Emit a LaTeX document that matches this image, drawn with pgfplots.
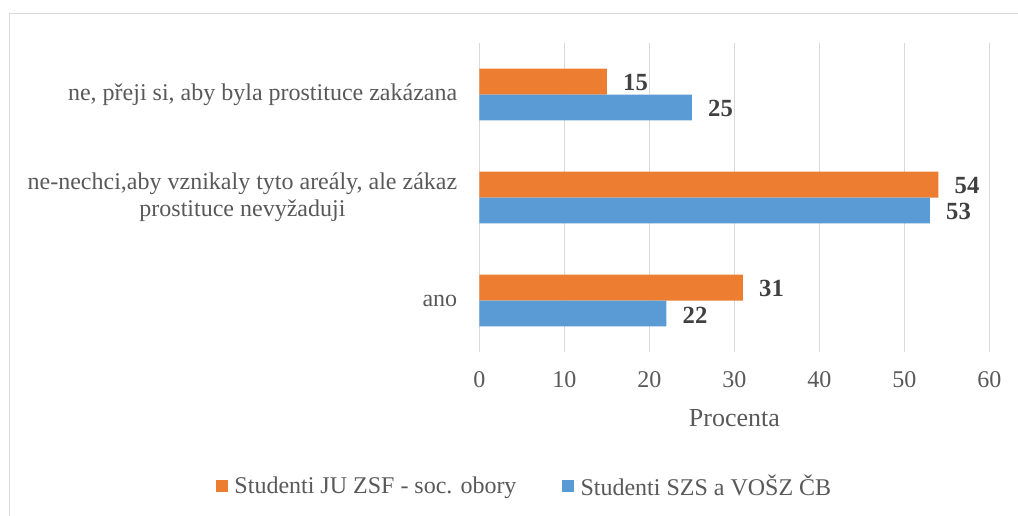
\documentclass[border=0pt]{standalone}
\usepackage{fontspec}
\setmainfont{Liberation Serif}
\usepackage{pgfplots}
\pgfplotsset{compat=1.18}
\definecolor{orangeS}{HTML}{ED7D31}
\definecolor{blueS}{HTML}{5B9BD5}
\definecolor{gridc}{HTML}{D9D9D9}
\definecolor{txt}{HTML}{595959}
\definecolor{lbl}{HTML}{404040}
\begin{document}
\begin{tikzpicture}
\useasboundingbox (0,0) rectangle (763.5pt,386.25pt);
\draw[gridc, line width=0.75pt] (6.975pt,-1pt) -- (6.975pt,375.75pt) -- (765pt,375.75pt);
\begin{axis}[
  at={(359.6pt,122.25pt)}, anchor=south west,
  scale only axis, width=382.5pt, height=231.75pt,
  xbar, xmin=0, xmax=60, ymin=-0.5, ymax=2.5,
  xtick={0,10,...,60}, ytick={0,1,2},
  yticklabels={ano,{ne-nechci,aby vznikaly tyto areály, ale zákaz\\prostituce nevyžaduji},{ne, přeji si, aby byla prostituce zakázana}},
  /pgf/number format/assume math mode=true,
  axis line style={draw=none}, tick style={draw=none}, major tick length=0pt,
  xmajorgrids, grid style={draw=gridc, line width=0.9pt},
  ticklabel style={font=\fontsize{18}{20}\selectfont, text=txt},
  xticklabel style={inner sep=0pt, anchor=center, yshift=-21pt},
  yticklabel style={inner sep=0pt, anchor=east, align=center, xshift=-16.5pt},
  xlabel={Procenta},
  xlabel style={font=\fontsize{19.5}{22}\selectfont, text=txt, at={(axis description cs:0.5,0)}, anchor=center, yshift=-49.5pt},
  bar width=0.2524,
  nodes near coords,
  every node near coord/.append style={font=\bfseries\fontsize{18.5}{20}\selectfont, text=lbl, anchor=west, inner sep=0pt, xshift=12pt, yshift=-1pt},
  legend style={draw=none, legend columns=2, at={(axis description cs:0.089,-0.434)}, anchor=center,
    font=\fontsize{18}{20}\selectfont, text=txt, inner sep=0pt,
    /tikz/every even column/.append style={column sep=32pt}},
  legend image code/.code={\fill[#1] (0pt,-4.5pt) rectangle (9pt,4.5pt); \path (12pt,0pt);},
]
\addplot[fill=orangeS, draw=none, bar shift=0.1262] coordinates {(31,0) (54,1) (15,2)};
\addlegendentry{Studenti JU ZSF - soc. obory}
\addplot[fill=blueS, draw=none, bar shift=-0.1262] coordinates {(22,0) (53,1) (25,2)};
\addlegendentry{Studenti SZS a VOŠZ ČB}
\end{axis}
\end{tikzpicture}
\end{document}
